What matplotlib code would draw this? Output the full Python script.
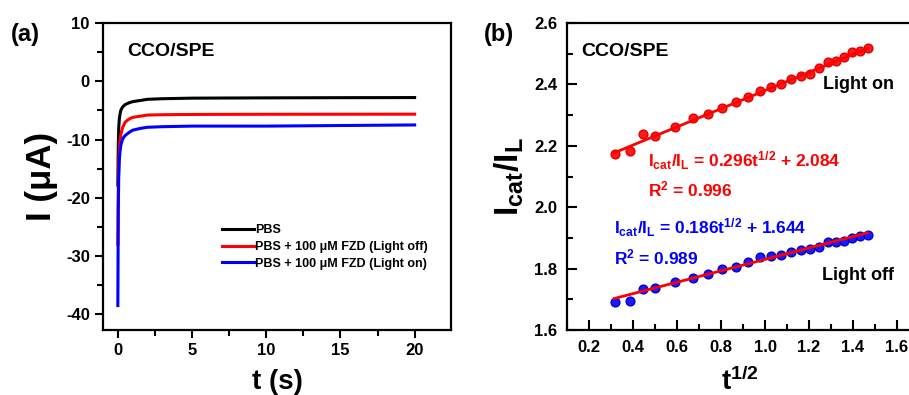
import numpy as np
import matplotlib
matplotlib.use('Agg')
import matplotlib.pyplot as plt
from matplotlib.ticker import MultipleLocator

plt.rcParams['font.family'] = ['Liberation Sans', 'DejaVu Sans']
plt.rcParams['font.weight'] = 'bold'
plt.rcParams['axes.unicode_minus'] = False
plt.rcParams['mathtext.fontset'] = 'custom'
plt.rcParams['mathtext.rm'] = 'Liberation Sans:bold'
plt.rcParams['mathtext.bf'] = 'Liberation Sans:bold'
plt.rcParams['mathtext.it'] = 'Liberation Sans:bold'

# panel (a): chronoamperometry
t_s = [0.0, 0.03, 0.06, 0.1, 0.15, 0.2, 0.3, 0.4, 0.5, 0.75, 1.0, 1.5, 2.0, 3.0, 4.0, 5.0, 7.0, 10.0, 15.0, 20.0]
i_pbs = [-17.8, -11.0, -8.0, -6.5, -5.6, -5.0, -4.5, -4.2, -4.0, -3.7, -3.5, -3.3, -3.1, -3.0, -2.95, -2.9, -2.88, -2.85, -2.82, -2.8]
i_off = [-28.0, -18.0, -14.0, -11.8, -10.2, -9.2, -8.1, -7.5, -7.0, -6.5, -6.2, -6.0, -5.8, -5.75, -5.72, -5.7, -5.68, -5.67, -5.66, -5.65]
i_on = [-38.5, -22.0, -16.5, -13.5, -12.0, -11.0, -10.1, -9.6, -9.3, -8.8, -8.4, -8.1, -7.9, -7.8, -7.75, -7.7, -7.7, -7.7, -7.6, -7.5]
labels_a = ['PBS', 'PBS + 100 \u03bcM FZD (Light off)', 'PBS + 100 \u03bcM FZD (Light on)']

# panel (b): Icat/IL vs t^1/2
sqrt_t = [0.316, 0.387, 0.447, 0.500, 0.592, 0.671, 0.742, 0.806, 0.866, 0.922, 0.975, 1.025,
          1.072, 1.118, 1.162, 1.204, 1.245, 1.285, 1.323, 1.360, 1.396, 1.432, 1.466]
ratio_on = [2.174, 2.183, 2.237, 2.232, 2.260, 2.289, 2.303, 2.324, 2.342, 2.359, 2.379, 2.390,
            2.401, 2.418, 2.428, 2.433, 2.455, 2.472, 2.476, 2.488, 2.504, 2.510, 2.518]
ratio_off = [1.690, 1.695, 1.734, 1.736, 1.755, 1.770, 1.782, 1.798, 1.804, 1.823, 1.838, 1.841,
             1.843, 1.854, 1.859, 1.863, 1.870, 1.887, 1.887, 1.890, 1.899, 1.906, 1.909]
fit_on = (0.296, 2.084)
fit_off = (0.186, 1.644)

fig = plt.figure(figsize=(9.09, 3.95), dpi=100)
ax1 = fig.add_axes([103 / 909, 1 - 330 / 395, 348 / 909, 307 / 395])
ax2 = fig.add_axes([567 / 909, 1 - 330 / 395, 345.4 / 909, 307 / 395])

for ax in (ax1, ax2):
    for sp in ax.spines.values():
        sp.set_linewidth(1.6)

# (a)
ax1.plot(t_s, i_pbs, color='black', lw=2.2, label=labels_a[0])
ax1.plot(t_s, i_off, color='#ff0000', lw=2.2, label=labels_a[1])
ax1.plot(t_s, i_on, color='#0000ff', lw=2.2, label=labels_a[2])
ax1.set_xlim(-1.0, 22.45)
ax1.set_ylim(-42.7, 10)
ax1.xaxis.set_major_locator(MultipleLocator(5))
ax1.xaxis.set_minor_locator(MultipleLocator(2.5))
ax1.yaxis.set_major_locator(MultipleLocator(10))
ax1.yaxis.set_minor_locator(MultipleLocator(5))
ax1.tick_params(which='major', direction='out', length=6, width=1.5, labelsize=12)
ax1.tick_params(which='minor', direction='out', length=4, width=1.5)
ax1.set_xlabel('t (s)', fontsize=20, fontweight='bold', labelpad=8)
ax1.set_ylabel('I (\u03bcA)', fontsize=25, fontweight='bold', labelpad=6)
ax1.text(0.07, 0.935, 'CCO/SPE', transform=ax1.transAxes, fontsize=14, fontweight='bold', va='top')
leg = ax1.legend(loc='upper left', bbox_to_anchor=(0.325, 0.365), frameon=False, fontsize=9,
                 handlelength=2.5, handletextpad=0.1, labelspacing=0.38, borderpad=0)
for txt in leg.get_texts():
    txt.set_fontweight('bold')
fig.text(11 / 909, 1 - 34 / 395, '(a)', fontsize=17, fontweight='bold', va='center')

# (b)
ax2.plot(sqrt_t, ratio_on, 'o', color='#ff1a1a', mec='#e00000', ms=6.3)
ax2.plot(sqrt_t, ratio_off, 'o', color='#1a1aff', mec='#0000d0', ms=6.3)
xf = np.array([sqrt_t[0], sqrt_t[-1]])
ax2.plot(xf, fit_on[0] * xf + fit_on[1], color='#ff0000', lw=2)
ax2.plot(xf, fit_off[0] * xf + fit_off[1], color='#ff0000', lw=2)
ax2.set_xlim(0.1, 1.67)
ax2.set_ylim(1.6, 2.6)
ax2.xaxis.set_major_locator(MultipleLocator(0.2))
ax2.xaxis.set_minor_locator(MultipleLocator(0.1))
ax2.yaxis.set_major_locator(MultipleLocator(0.2))
ax2.yaxis.set_minor_locator(MultipleLocator(0.1))
ax2.tick_params(which='major', direction='in', length=7, width=1.5, labelsize=12, pad=7)
ax2.tick_params(which='minor', direction='in', length=4, width=1.5)
ax2.set_xlabel(r'$\mathbf{t^{1/2}}$', fontsize=20, labelpad=9)
ax2.set_ylabel(r'$\mathbf{I_{cat}/I_L}$', fontsize=24, labelpad=6)
ax2.text(0.04, 0.935, 'CCO/SPE', transform=ax2.transAxes, fontsize=14, fontweight='bold', va='top')
ax2.text(0.47, 2.152, r'$\mathbf{I_{cat}/I_L}$ = 0.296t$\mathbf{^{1/2}}$ + 2.084',
         color='#ff0000', fontsize=12.5, fontweight='bold', va='center')
ax2.text(0.47, 2.057, r'R$\mathbf{^2}$ = 0.996', color='#ff0000', fontsize=12.5, fontweight='bold', va='center')
ax2.text(0.314, 1.933, r'$\mathbf{I_{cat}/I_L}$ = 0.186t$\mathbf{^{1/2}}$ + 1.644',
         color='#0000ff', fontsize=12.5, fontweight='bold', va='center')
ax2.text(0.314, 1.837, r'R$\mathbf{^2}$ = 0.989', color='#0000ff', fontsize=12.5, fontweight='bold', va='center')
ax2.text(1.264, 2.40, 'Light on', fontsize=13, fontweight='bold', va='center')
ax2.text(1.257, 1.778, 'Light off', fontsize=13, fontweight='bold', va='center')
fig.text(484 / 909, 1 - 34 / 395, '(b)', fontsize=17, fontweight='bold', va='center')

for ax in (ax1, ax2):
    for lbl in ax.get_xticklabels() + ax.get_yticklabels():
        lbl.set_fontweight('bold')

plt.savefig('out.png', dpi=100)
